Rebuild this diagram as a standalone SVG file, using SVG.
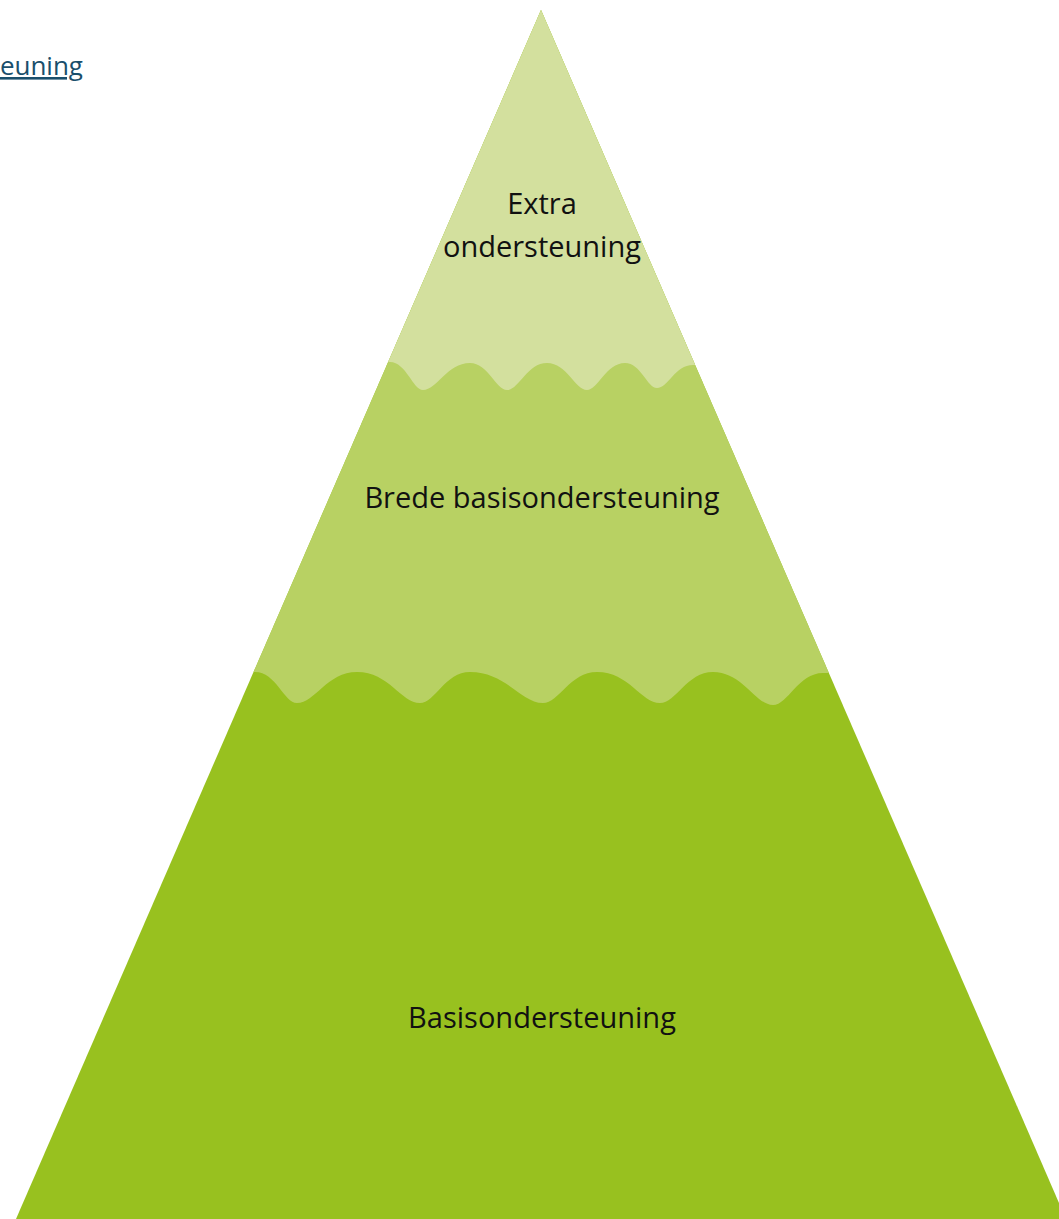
<svg xmlns="http://www.w3.org/2000/svg" width="1059" height="1219" viewBox="0 0 1059 1219">
  <style>
    .lbl { font-family: "Open Sans", "Liberation Sans", sans-serif; font-size: 29px; fill: #111111; text-anchor: middle; }
    .link { font-family: "Open Sans", "Liberation Sans", sans-serif; font-size: 26px; fill: #1a4f6c; text-decoration: underline; text-anchor: end; }
  </style>
  <defs>
    <clipPath id="tri">
      <polygon points="541,10 16,1219 1066,1219"/>
    </clipPath>
  </defs>
  <rect width="1059" height="1219" fill="#ffffff"/>
  <g id="link">
    <text class="link" x="83" y="75">euning</text>
  </g>
  <g id="pyramid" clip-path="url(#tri)">
    <g id="basis">
      <rect x="0" y="0" width="1059" height="1219" fill="#98c11f"/>
    </g>
    <g id="brede">
      <path fill="#b8d163" d="M 200,0 L 900,0 L 900,673 L 823,673 C 798,673 788,705 773,705 C 755,705 743,672 713,672 C 687,672 676,703 660,703 C 641,703 629,672 597,672 C 570,672 559,703 543,703 C 521,703 506,672 470,672 C 445,672 435,703 420,703 C 401,703 389,672 357,672 C 327,672 315,703 297,703 C 284,703 276,672 255,672 L 200,672 Z"/>
    </g>
    <g id="extra">
      <path fill="#d3e09e" d="M 300,0 L 800,0 L 800,365 L 693,365 C 675,365 668,388 657,388 C 647,388 641,363 625,363 C 606,363 598,390 587,390 C 575,390 567,363 547,363 C 527,363 519,390 507,390 C 496,390 488,363 470,363 C 447,363 437,390 423,390 C 413,390 406,362 390,362 L 300,362 Z"/>
    </g>
  </g>
  <g id="labels">
    <text class="lbl" x="542" y="214">Extra</text>
    <text class="lbl" x="542" y="257">ondersteuning</text>
    <text class="lbl" x="542" y="508">Brede basisondersteuning</text>
    <text class="lbl" x="542" y="1028">Basisondersteuning</text>
  </g>
  <g id="connectors"/>
</svg>
